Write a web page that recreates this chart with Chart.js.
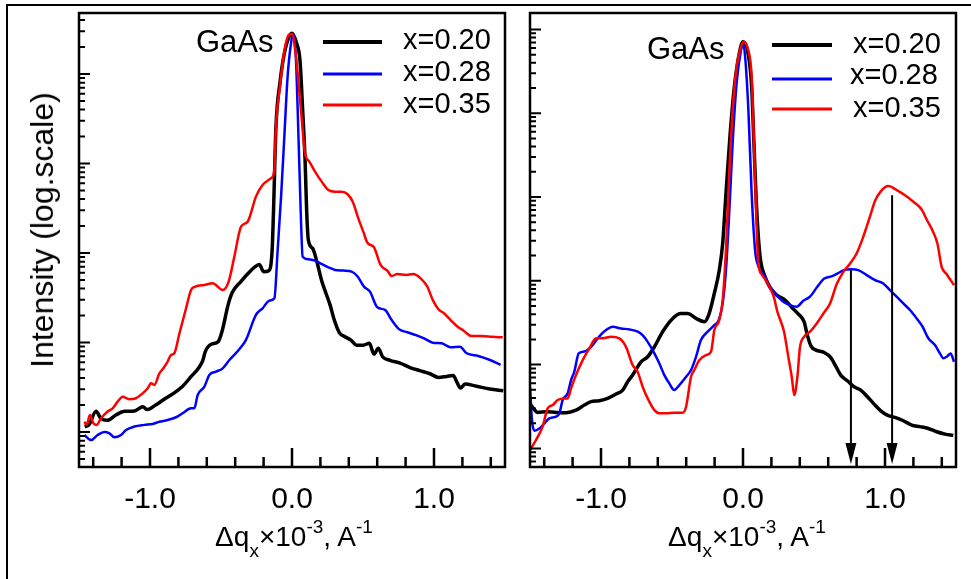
<!DOCTYPE html>
<html>
<head>
<meta charset="utf-8">
<script src="https://cdn.jsdelivr.net/npm/chart.js@4.4.1/dist/chart.umd.min.js"></script>
<style>
  html, body { margin: 0; padding: 0; background: #fff; }
  body { width: 971px; height: 579px; position: relative; overflow: hidden;
         font-family: "Liberation Sans", Arial, sans-serif; color: #000; }
  canvas { position: absolute; top: 0; }
  #leftChart { left: 0; }
  #rightChart { left: 515px; }
  .frame { position: absolute; left: 6px; top: 4px; right: 0; bottom: -4px;
           border-left: 2px solid #000; border-top: 2px solid #000; }
  .ytitle { position: absolute; left: 42px; top: 230px; font-size: 32px; line-height: 32px;
            white-space: nowrap; transform: translate(-50%, -50%) rotate(-90deg); }
  .xtitle { position: absolute; top: 523px; width: 400px; text-align: center;
            font-size: 28px; line-height: 28px; white-space: nowrap; }
  .xtitle sub, .xtitle sup { font-size: 19px; position: relative; vertical-align: baseline; }
  .xtitle sub { top: 11px; }
  .xtitle sup { top: -13px; }
</style>
</head>
<body>
<div class="frame"></div>
<canvas id="leftChart" width="515" height="579"></canvas>
<canvas id="rightChart" width="456" height="579"></canvas>
<div class="ytitle">Intensity (log.scale)</div>
<div class="xtitle" style="left:94px">&Delta;q<sub>x</sub>&times;10<sup>-3</sup>, A<sup>-1</sup></div>
<div class="xtitle" style="left:547px">&Delta;q<sub>x</sub>&times;10<sup>-3</sup>, A<sup>-1</sup></div>
<script>
// axis ticks
const xTickValues = [-1, 0, 1];
const xTickLabels = ['-1.0', '0.0', '1.0'];
const xMinorTicks = [-1.4, -1.2, -0.8, -0.6, -0.4, -0.2, 0.2, 0.4, 0.6, 0.8, 1.2, 1.4];
const yMinorSteps = [2, 3, 4, 5, 6, 7, 8, 9];
const leftDecades = [1, 10, 100, 1000, 10000, 100000];
const rightDecades = [0.1, 1, 10, 100, 1000, 10000, 100000];
const seriesLabels = ['x=0.20', 'x=0.28', 'x=0.35'];
const peakLabel = 'GaAs';

// left panel, x=0.20
const left020X = [-1.46, -1.43, -1.38, -1.345, -1.30, -1.24, -1.18, -1.11, -1.05, -1.02, -0.96, -0.90, -0.84, -0.77, -0.71, -0.66, -0.63, -0.61, -0.57, -0.52, -0.49, -0.45, -0.42, -0.36, -0.31, -0.265, -0.23, -0.20, -0.165, -0.14, -0.13, -0.113, -0.085, -0.054, -0.019, 0.0, 0.033, 0.056, 0.075, 0.092, 0.103, 0.115, 0.146, 0.178, 0.209, 0.239, 0.268, 0.298, 0.333, 0.373, 0.413, 0.455, 0.502, 0.545, 0.577, 0.608, 0.638, 0.69, 0.761, 0.831, 0.901, 0.972, 1.031, 1.089, 1.136, 1.16, 1.188, 1.218, 1.30, 1.394, 1.488];
const left020Y = [11.5, 12.0, 17.0, 14.1, 13.5, 15.5, 17.0, 17.2, 19.1, 17.8, 20.0, 23.2, 26.6, 32.4, 41.7, 51.3, 61.7, 79.4, 95.5, 102, 138, 263, 363, 479, 589, 692, 741, 617, 631, 1070, 3020, 25700, 79400, 170000, 263000, 285000, 219000, 143000, 39800, 11000, 3020, 1400, 1120, 767, 490, 355, 263, 178, 129, 116, 107, 93.3, 93.3, 97.7, 74.1, 86.1, 69.2, 63.1, 58.9, 52.5, 48.4, 44.7, 40.7, 41.7, 42.7, 36.3, 30.9, 34.3, 32.4, 30.2, 28.8];

// left panel, x=0.28
const left028X = [-1.462, -1.415, -1.369, -1.322, -1.286, -1.251, -1.204, -1.169, -1.11, -1.04, -0.981, -0.934, -0.876, -0.817, -0.77, -0.711, -0.688, -0.664, -0.617, -0.582, -0.535, -0.488, -0.441, -0.371, -0.324, -0.254, -0.207, -0.16, -0.124, -0.101, -0.077, -0.054, -0.031, -0.007, 0.009, 0.028, 0.047, 0.061, 0.075, 0.115, 0.162, 0.209, 0.256, 0.303, 0.362, 0.42, 0.462, 0.507, 0.549, 0.601, 0.655, 0.702, 0.756, 0.812, 0.873, 0.93, 0.991, 1.054, 1.117, 1.183, 1.23, 1.312, 1.394, 1.469];
const left028Y = [9.25, 8.13, 9.25, 10.0, 9.66, 8.71, 9.25, 10.5, 11.5, 12.0, 12.3, 13.0, 13.6, 14.6, 16.2, 18.4, 18.4, 25.9, 32.1, 43.4, 47.2, 51.4, 63.7, 83.9, 107, 203, 241, 293, 311, 1080, 4260, 19950, 93300, 220000, 282000, 143000, 16800, 3020, 910, 849, 820, 753, 692, 646, 635, 618, 545, 421, 370, 247, 231, 178, 140, 130, 121, 111, 99.5, 97.9, 88.3, 89.7, 75.7, 70.6, 63.7, 56.1];

// left panel, x=0.35
const left035X = [-1.462, -1.446, -1.423, -1.399, -1.376, -1.345, -1.298, -1.263, -1.228, -1.192, -1.146, -1.099, -1.052, -1.016, -0.993, -0.969, -0.934, -0.906, -0.876, -0.852, -0.829, -0.793, -0.746, -0.711, -0.681, -0.617, -0.559, -0.488, -0.446, -0.406, -0.359, -0.312, -0.254, -0.207, -0.148, -0.124, -0.113, -0.085, -0.054, -0.023, 0.0, 0.028, 0.061, 0.092, 0.122, 0.162, 0.209, 0.256, 0.303, 0.35, 0.39, 0.427, 0.467, 0.502, 0.531, 0.577, 0.624, 0.671, 0.702, 0.742, 0.803, 0.854, 0.906, 0.953, 0.991, 1.031, 1.07, 1.117, 1.16, 1.207, 1.265, 1.336, 1.406, 1.484];
const left035Y = [13.0, 12.0, 15.5, 12.5, 12.0, 14.2, 16.9, 18.4, 21.8, 24.8, 23.2, 23.8, 27.0, 30.8, 35.0, 33.5, 45.2, 51.4, 61.1, 72.4, 75.7, 126, 241, 386, 421, 439, 458, 386, 479, 910, 1970, 2240, 4260, 5750, 6820, 8450, 25700, 72100, 178000, 273000, 282000, 156000, 43200, 13000, 10500, 8110, 6270, 5060, 4840, 4840, 4560, 3750, 2440, 1730, 1300, 1160, 735, 635, 553, 582, 568, 582, 521, 421, 299, 235, 212, 178, 153, 136, 118, 118, 116, 114];

// right panel, x=0.20
const right020X = [-1.493, -1.476, -1.446, -1.387, -1.317, -1.246, -1.176, -1.117, -1.07, -1.012, -0.953, -0.894, -0.847, -0.812, -0.777, -0.718, -0.671, -0.624, -0.566, -0.495, -0.437, -0.39, -0.331, -0.272, -0.242, -0.202, -0.167, -0.143, -0.12, -0.092, -0.061, -0.026, 0.0, 0.038, 0.061, 0.077, 0.092, 0.108, 0.124, 0.155, 0.19, 0.237, 0.296, 0.343, 0.39, 0.43, 0.453, 0.479, 0.514, 0.57, 0.617, 0.655, 0.688, 0.735, 0.782, 0.829, 0.876, 0.923, 0.97, 1.016, 1.07, 1.129, 1.188, 1.246, 1.305, 1.364, 1.423, 1.481];
const right020Y = [3.29, 3.00, 2.69, 2.74, 2.69, 2.67, 2.86, 3.29, 3.61, 3.71, 3.95, 4.45, 4.97, 6.25, 7.50, 10.8, 12.4, 16.3, 24.7, 35.6, 40.8, 40.8, 35.6, 32.5, 39.0, 70.8, 134, 279, 1100, 5240, 20700, 51800, 71300, 49400, 20700, 4370, 1010, 336, 174, 112, 83.4, 67.6, 58.9, 48.2, 40.1, 32.5, 22.5, 16.6, 14.9, 14.0, 12.2, 9.44, 7.50, 6.41, 5.45, 4.97, 4.14, 3.38, 2.81, 2.50, 2.34, 2.14, 1.90, 1.82, 1.73, 1.58, 1.48, 1.43];

// right panel, x=0.28
const right028X = [-1.5, -1.486, -1.469, -1.434, -1.399, -1.364, -1.317, -1.293, -1.27, -1.235, -1.211, -1.188, -1.157, -1.117, -1.07, -1.023, -0.965, -0.918, -0.859, -0.8, -0.741, -0.707, -0.671, -0.624, -0.589, -0.554, -0.519, -0.484, -0.448, -0.401, -0.366, -0.331, -0.296, -0.249, -0.202, -0.171, -0.143, -0.12, -0.096, -0.073, -0.045, -0.014, 0.0, 0.014, 0.038, 0.061, 0.085, 0.108, 0.143, 0.19, 0.237, 0.284, 0.331, 0.378, 0.425, 0.472, 0.523, 0.57, 0.617, 0.664, 0.711, 0.765, 0.812, 0.871, 0.93, 0.988, 1.035, 1.082, 1.129, 1.176, 1.223, 1.265, 1.305, 1.352, 1.387, 1.411, 1.439, 1.462, 1.486];
const right028Y = [5.45, 2.18, 1.63, 1.73, 1.99, 2.28, 2.39, 2.62, 3.78, 4.53, 6.53, 8.22, 13.6, 14.3, 16.3, 20.6, 25.8, 28.3, 27.0, 26.3, 24.7, 22.5, 18.7, 13.6, 10.3, 7.50, 5.97, 4.97, 5.70, 7.16, 8.61, 12.4, 19.6, 24.7, 29.6, 34.0, 53.7, 134, 698, 4370, 22700, 56600, 67600, 49400, 10900, 1100, 233, 150, 120, 84.9, 67.6, 56.2, 51.3, 49.1, 57.8, 64.6, 84.9, 106, 112, 122, 134, 137, 134, 117, 102, 93.1, 77.4, 64.6, 53.7, 44.8, 35.6, 28.3, 20.6, 17.1, 13.6, 11.9, 12.6, 13.6, 10.8];

// right panel, x=0.35
const right035X = [-1.5, -1.458, -1.411, -1.376, -1.34, -1.305, -1.258, -1.235, -1.211, -1.176, -1.129, -1.082, -1.035, -0.988, -0.93, -0.871, -0.824, -0.777, -0.742, -0.707, -0.66, -0.624, -0.589, -0.542, -0.484, -0.425, -0.401, -0.366, -0.343, -0.308, -0.261, -0.225, -0.202, -0.167, -0.143, -0.12, -0.096, -0.073, -0.045, -0.014, 0.005, 0.031, 0.061, 0.077, 0.092, 0.108, 0.131, 0.167, 0.195, 0.218, 0.242, 0.265, 0.289, 0.319, 0.343, 0.361, 0.383, 0.401, 0.43, 0.472, 0.519, 0.566, 0.613, 0.66, 0.707, 0.754, 0.8, 0.847, 0.894, 0.93, 0.969, 1.023, 1.082, 1.141, 1.2, 1.258, 1.298, 1.333, 1.369, 1.399, 1.434, 1.486];
const right035Y = [0.955, 1.26, 1.82, 3.00, 3.29, 3.78, 3.95, 3.95, 5.20, 7.50, 11.3, 15.6, 20.6, 20.6, 21.5, 20.6, 16.3, 9.86, 8.22, 5.45, 3.61, 2.86, 2.62, 2.62, 2.67, 2.67, 3.14, 7.16, 8.61, 11.3, 13.0, 14.3, 25.8, 34.0, 58.9, 233, 2090, 10900, 35900, 62100, 71300, 61000, 27200, 4370, 698, 161, 120, 97.5, 78.9, 63.4, 42.8, 33.3, 24.7, 12.4, 7.16, 4.33, 7.16, 16.0, 21.5, 24.7, 31.0, 40.8, 53.7, 91.4, 128, 161, 212, 336, 582, 902, 1160, 1350, 1210, 1050, 879, 711, 521, 403, 279, 147, 120, 88.9];

// arrows marking the satellite peaks (right panel)
const arrowX = [0.76, 1.05];
const arrowTop = [134, 1050];

const FONT = '"Liberation Sans", Arial, sans-serif';
const colors = ['#000000', '#0000ff', '#ff0000'];
const widths = [3.5, 2.5, 2.5];
const sampleWidths = [4, 3, 3];

function pts(xs, ys) {
    return xs.map((x, i) => ({ x: x, y: ys[i] }));
}

function makeDatasets(series) {
    return series.map((s, i) => ({
        label: seriesLabels[i],
        data: pts(s[0], s[1]),
        borderColor: colors[i],
        backgroundColor: colors[i],
        borderWidth: widths[i],
        pointRadius: 0,
        cubicInterpolationMode: 'monotone',
        order: 3 - i   // red on top, black underneath
    }));
}

// frame, inward ticks, legend, peak label, arrows
const panelDecor = {
    id: 'panelDecor',
    afterDatasetsDraw(chart, args, opts) {
        const { ctx, chartArea: a } = chart;
        const xs = chart.scales.x, ys = chart.scales.y;
        ctx.save();
        ctx.strokeStyle = '#000';
        ctx.fillStyle = '#000';
        ctx.lineWidth = 2.5;

        // x ticks pointing up into the plot
        ctx.beginPath();
        xTickValues.forEach(v => {
            const px = xs.getPixelForValue(v);
            ctx.moveTo(px, a.bottom); ctx.lineTo(px, a.bottom - 19);
        });
        xMinorTicks.forEach(v => {
            const px = xs.getPixelForValue(v);
            ctx.moveTo(px, a.bottom); ctx.lineTo(px, a.bottom - 10);
        });
        ctx.stroke();

        // log y ticks pointing right
        ctx.lineWidth = 2;
        ctx.beginPath();
        opts.decades.forEach(d => {
            const py = ys.getPixelForValue(d);
            if (py >= a.top && py <= a.bottom) {
                ctx.moveTo(a.left, py); ctx.lineTo(a.left + 11, py);
            }
            yMinorSteps.forEach(k => {
                const pm = ys.getPixelForValue(d * k);
                if (pm >= a.top && pm <= a.bottom) {
                    ctx.moveTo(a.left, pm); ctx.lineTo(a.left + 6, pm);
                }
            });
        });
        ctx.stroke();

        // axes box
        ctx.lineWidth = 2.5;
        ctx.strokeRect(a.left, a.top, a.right - a.left, a.bottom - a.top);

        // arrows
        if (opts.arrows) {
            ctx.lineWidth = 2;
            opts.arrows.x.forEach((v, i) => {
                const px = xs.getPixelForValue(v);
                const top = ys.getPixelForValue(opts.arrows.top[i]);
                const tip = a.bottom - 3;
                ctx.beginPath();
                ctx.moveTo(px, top); ctx.lineTo(px, tip - 18);
                ctx.stroke();
                ctx.beginPath();
                ctx.moveTo(px - 5.5, tip - 21);
                ctx.lineTo(px + 5.5, tip - 21);
                ctx.lineTo(px, tip);
                ctx.closePath();
                ctx.fill();
            });
        }

        // legend
        const lg = opts.legend;
        chart.data.datasets.forEach((ds, i) => {
            ctx.strokeStyle = ds.borderColor;
            ctx.lineWidth = sampleWidths[i];
            ctx.beginPath();
            ctx.moveTo(lg.x1, lg.lineY[i]); ctx.lineTo(lg.x2, lg.lineY[i]);
            ctx.stroke();
            ctx.fillStyle = '#000';
            ctx.font = '29px ' + FONT;
            ctx.textAlign = 'left';
            ctx.textBaseline = 'alphabetic';
            ctx.fillText(ds.label, lg.textX[i], lg.textY[i]);
        });

        ctx.font = '31px ' + FONT;
        ctx.fillText(peakLabel, opts.peak.x, opts.peak.y);
        ctx.restore();
    }
};

function makeChart(id, series, yMin, yMax, pad, decor) {
    return new Chart(document.getElementById(id), {
        type: 'line',
        data: { datasets: makeDatasets(series) },
        plugins: [panelDecor],
        options: {
            responsive: false,
            devicePixelRatio: 1,
            animation: false,
            events: [],
            layout: { padding: pad },
            plugins: {
                legend: { display: false },
                tooltip: { enabled: false },
                panelDecor: decor
            },
            scales: {
                x: {
                    type: 'linear',
                    min: -1.5,
                    max: 1.5,
                    afterBuildTicks: s => { s.ticks = xTickValues.map(v => ({ value: v })); },
                    afterFit: s => { s.height = 112; },
                    grid: { display: false, drawTicks: false },
                    border: { display: false },
                    ticks: {
                        padding: 15,
                        color: '#000',
                        maxRotation: 0,
                        autoSkip: false,
                        font: { family: FONT, size: 30 },
                        callback: (v, i) => xTickLabels[i]
                    }
                },
                y: {
                    type: 'logarithmic',
                    min: yMin,
                    max: yMax,
                    display: false
                }
            }
        }
    });
}

makeChart('leftChart',
    [[left020X, left020Y], [left028X, left028Y], [left035X, left035Y]],
    4.06, 480000,
    { left: 79, top: 13, right: 10, bottom: 0 },
    {
        decades: leftDecades,
        legend: { x1: 323, x2: 382, lineY: [42, 74, 105], textX: [403, 403, 403], textY: [49, 81, 113] },
        peak: { x: 196, y: 52 }
    });

makeChart('rightChart',
    [[right020X, right020Y], [right028X, right028Y], [right035X, right035Y]],
    0.6, 157000,
    { left: 15, top: 13, right: 15, bottom: 0 },
    {
        decades: rightDecades,
        legend: { x1: 257, x2: 317, lineY: [45, 79, 109], textX: [338, 335, 338], textY: [53, 84, 117] },
        peak: { x: 132, y: 59 },
        arrows: { x: arrowX, top: arrowTop }
    });
</script>
</body>
</html>
